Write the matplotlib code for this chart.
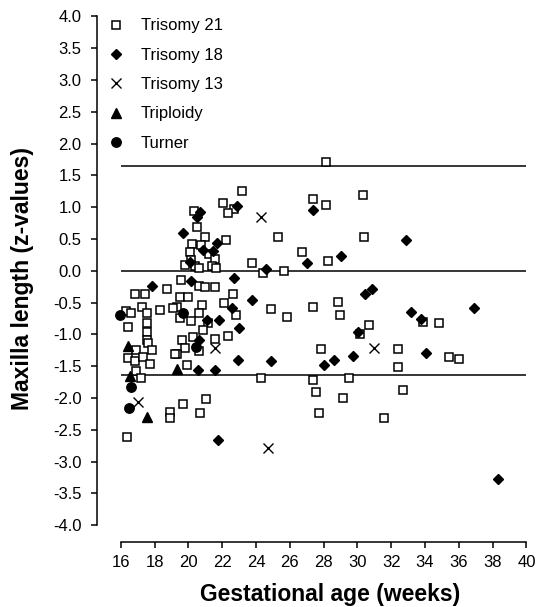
import matplotlib
matplotlib.use("Agg")
import matplotlib.pyplot as plt

plt.rcParams['font.family'] = ['Liberation Sans', 'DejaVu Sans']
plt.rcParams['axes.unicode_minus'] = False

# gestational age (weeks) and maxilla length z-values per group
t21_weeks = [23.15, 22.03, 22.72, 22.36, 20.35, 20.5, 20.97, 22.2, 20.2, 20.75, 21.24, 20.1, 21.6, 20.15, 19.8, 20.4, 20.6, 21.37, 21.65,
             19.54, 20.6, 20.98, 21.57, 22.66, 19.5, 19.99, 16.84, 17.43, 18.72, 19.3, 20.78, 22.1, 22.8, 20.6, 19.5, 20.15, 21.17, 20.88,
             22.36, 20.29, 19.6, 21.57, 19.8, 20.6, 19.3, 19.9,
             16.31, 16.6, 17.23, 17.53, 17.53, 17.53, 17.53, 17.63, 17.83, 18.32, 19.11, 16.42, 16.9, 16.42, 16.84, 17.33, 17.73, 16.9,
             17.2, 19.2, 16.39, 18.94, 18.94, 19.7, 20.69, 21.04,
             28.14, 27.39, 28.14, 30.31, 25.28, 30.41, 26.70, 28.28, 23.75, 24.40, 25.67, 24.87, 25.85, 27.39, 28.87, 28.97, 33.90, 34.85,
             30.15, 30.70, 27.83, 32.42, 32.42, 35.44, 36.0, 24.28, 27.39, 27.57, 27.71, 29.52, 29.15, 31.59, 32.72]
t21_z = [1.25, 1.07, 0.97, 0.91, 0.94, 0.69, 0.53, 0.49, 0.42, 0.40, 0.26, 0.30, 0.19, 0.17, 0.09, 0.07, 0.04, 0.07, 0.04,
         -0.15, -0.24, -0.26, -0.26, -0.36, -0.41, -0.42, -0.36, -0.36, -0.29, -0.57, -0.54, -0.51, -0.69, -0.67, -0.75, -0.79, -0.83,
         -0.93, -1.02, -1.04, -1.09, -1.07, -1.22, -1.27, -1.31, -1.49,
         -0.63, -0.67, -0.57, -0.67, -0.83, -0.96, -1.09, -1.14, -1.25, -0.62, -0.59, -0.89, -1.24, -1.38, -1.42, -1.36, -1.46, -1.57,
         -1.68, -1.31, -2.61, -2.22, -2.32, -2.10, -2.24, -2.02,
         1.71, 1.12, 1.03, 1.19, 0.53, 0.53, 0.29, 0.15, 0.12, -0.04, -0.01, -0.60, -0.73, -0.57, -0.49, -0.69, -0.81, -0.82,
         -1.00, -0.86, -1.23, -1.23, -1.52, -1.35, -1.39, -1.69, -1.72, -1.91, -2.23, -1.69, -2.00, -2.32, -1.88]

t18_weeks = [22.86, 20.69, 20.5, 19.7, 21.7, 20.88, 21.47, 20.1, 22.72, 20.15, 17.83, 23.75, 21.08, 21.83, 22.6, 23.0, 20.6,
             22.95, 20.55, 21.57, 21.77,
             27.39, 32.88, 27.04, 29.01, 24.59, 30.45, 30.85, 33.17, 33.75, 36.90, 30.05, 24.87, 28.02, 28.62, 29.76, 34.04, 38.30]
t18_z = [1.02, 0.93, 0.84, 0.60, 0.43, 0.33, 0.31, 0.13, -0.12, -0.16, -0.24, -0.46, -0.78, -0.78, -0.58, -0.90, -1.09,
         -1.40, -1.56, -1.56, -2.66,
         0.95, 0.49, 0.12, 0.23, 0.02, -0.37, -0.28, -0.65, -0.76, -0.58, -0.97, -1.42, -1.49, -1.40, -1.34, -1.30, -3.28]

t13_weeks = [24.3, 31.0, 24.73, 21.57, 17.0]
t13_z = [0.84, -1.22, -2.78, -1.22, -2.06]

trip_weeks = [16.42, 16.57, 17.57, 19.3]
trip_z = [-1.19, -1.66, -2.30, -1.54]

turner_weeks = [15.95, 16.62, 16.5, 19.7, 20.45]
turner_z = [-0.69, -1.83, -2.16, -0.67, -1.20]

ref_lines = [1.645, 0.0, -1.645]

fig = plt.figure(figsize=(5.42, 6.07), dpi=100)
ax = fig.add_axes([97 / 542, 1 - 525.1 / 607, (526.4 - 97) / 542, (525.1 - 16.3) / 607])

ax.hlines(ref_lines, 16, 40, color='black', linewidth=1.1, zorder=1)

ax.plot(t21_weeks, t21_z, 's', ms=6.3, mfc='white', mec='black', mew=1.1, label='Trisomy 21', zorder=2)
ax.plot(t18_weeks, t18_z, 'D', ms=5.6, color='black', label='Trisomy 18', zorder=3)
ax.plot(t13_weeks, t13_z, 'x', ms=6.5, mec='black', mew=1.0, label='Trisomy 13', zorder=3)
ax.plot(trip_weeks, trip_z, '^', ms=7, color='black', label='Triploidy', zorder=3)
ax.plot(turner_weeks, turner_z, 'o', ms=6.8, color='black', label='Turner', zorder=3)

ax.set_xlim(16 - (120.8 - 97) / 16.9, 40)
ax.set_ylim(-4, 4)

for s in ['top', 'right']:
    ax.spines[s].set_visible(False)
ax.spines['left'].set_bounds(-4, 4)
ax.spines['bottom'].set_bounds(16, 40)
ax.spines['bottom'].set_position(('outward', 12.2))
ax.spines['left'].set_linewidth(1.1)
ax.spines['bottom'].set_linewidth(1.1)

yt = [i * 0.5 for i in range(-8, 9)]
ax.set_yticks(yt)
ax.set_yticklabels([f'{v:.1f}' for v in yt])
ax.set_xticks(range(16, 41, 2))
ax.tick_params(direction='out', length=4, width=1.1, labelsize=12)
ax.tick_params(axis='y', pad=7)
ax.tick_params(axis='x', pad=5)

ax.set_xlabel('Gestational age (weeks)', fontsize=16.5, fontweight='bold')
ax.set_ylabel('Maxilla length (z-values)', fontsize=16.5, fontweight='bold')
ax.xaxis.set_label_coords(330 / 542, 1 - 583 / 607, transform=fig.transFigure)
ax.yaxis.set_label_coords(34 / 542, 1 - 279 / 607, transform=fig.transFigure)

ax.legend(loc='upper left', bbox_to_anchor=(104 / 542, 1 - 15 / 607), bbox_transform=fig.transFigure,
          frameon=False, fontsize=12, labelspacing=0.86, handlelength=1.0, handletextpad=1.0,
          borderpad=0.2, borderaxespad=0)

fig.savefig('out.png', dpi=100)
